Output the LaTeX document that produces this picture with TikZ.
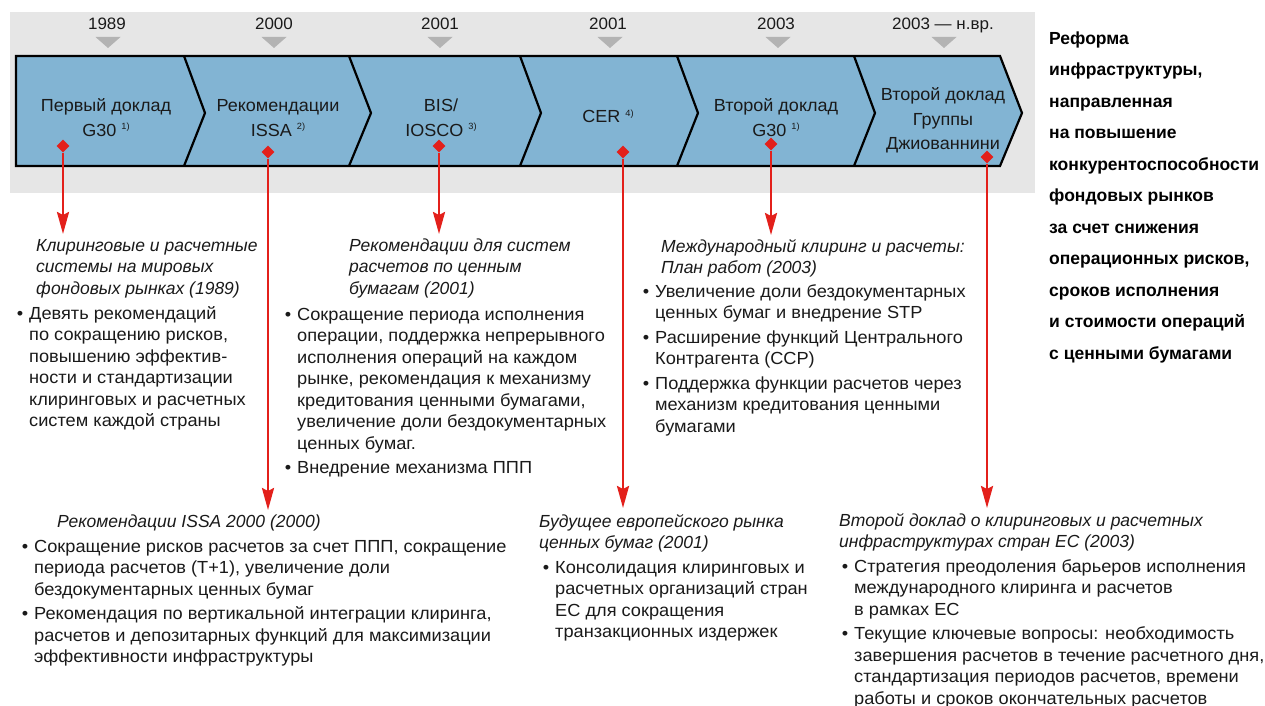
\documentclass[tikz,border=0pt]{standalone}
\usepackage{fontspec}
\setmainfont{Liberation Sans}
\newfontfamily\bodyf[FakeStretch=1.04]{Liberation Sans}
\newfontfamily\lblf[FakeStretch=1.03]{Liberation Sans}
\usetikzlibrary{arrows.meta,shapes.geometric}
\definecolor{bandblue}{HTML}{82B4D3}
\definecolor{bggray}{HTML}{E6E6E6}
\definecolor{trigray}{HTML}{B3B3B3}
\definecolor{mred}{HTML}{E3201B}
\definecolor{txt}{HTML}{1A1A1A}
\newcommand\fnote[1]{\raisebox{6.5pt}{\fontsize{9}{9}\selectfont #1}}
\newcommand\bu{\llap{\textbullet\hspace{6pt}}}
\newcommand\topstrut{\rule{0pt}{18pt}}
\begin{document}
\begin{tikzpicture}[x=1pt,y=-1pt,
  every node/.style={inner sep=0pt, text=txt},
  yr/.style={font=\lblf\fontsize{16.5}{18}\selectfont, anchor=base},
  lbl/.style={font=\lblf\fontsize{17.5}{20}\selectfont, anchor=base},
  hd/.style={font=\fontsize{17.5}{21.5}\selectfont\itshape, anchor=north west, align=left},
  bt/.style={font=\bodyf\fontsize{17.5}{21.5}\selectfont, anchor=north west, align=left},
  ttl/.style={font=\fontsize{17.5}{31.5}\selectfont\bfseries, anchor=north west, align=left, text=black},
  mk/.style={diamond, fill=mred, minimum width=13pt, minimum height=13pt, inner sep=0pt},
  ar/.style={draw=mred, line width=2.5pt, -{Stealth[length=22pt,width=12pt,inset=3pt]}},
  band/.style={fill=bandblue, draw=black, line width=2.2pt, line join=miter},
  sep/.style={draw=black, line width=2.2pt, line join=miter}]
\fill[white] (0,0) rectangle (1265,706);
\useasboundingbox (0,0) rectangle (1265,706);
\fill[bggray] (10,12) rectangle (1035,193);
% year triangles
\foreach \x in {108,274,440,610,778,944}
  \fill[trigray] (\x-12.5,37) -- (\x+12.5,37) -- (\x,48) -- cycle;
% years
\node[yr] (y1) at (107,30) {1989};
\node[yr] (y2) at (274,30) {2000};
\node[yr] (y3) at (440,30) {2001};
\node[yr] (y4) at (608,30) {2001};
\node[yr] (y5) at (776,30) {2003};
\node[yr] (y6) at (943,30) {2003 — н.вр.};
% band
\path[band] (16,56) -- (1000,56) -- (1022,113) -- (1000,166) -- (16,166) -- cycle;
\draw[sep] (184,56) -- (205,113) -- (184,166);
\draw[sep] (349,56) -- (371,113) -- (349,166);
\draw[sep] (520,56) -- (541,113) -- (520,166);
\draw[sep] (677,56) -- (698,113) -- (677,166);
\draw[sep] (854,56) -- (875,113) -- (854,166);
% band labels
\node[lbl] (l1a) at (106,112) {Первый доклад};
\node[lbl] (l1b) at (106,136) {G30 \fnote{1)}};
\node[lbl] (l2a) at (278,112) {Рекомендации};
\node[lbl] (l2b) at (278,136) {ISSA \fnote{2)}};
\node[lbl] (l3a) at (441,112) {BIS/};
\node[lbl] (l3b) at (441,136) {IOSCO \fnote{3)}};
\node[lbl] (l4)  at (608,123) {CER \fnote{4)}};
\node[lbl] (l5a) at (776,112) {Второй доклад};
\node[lbl] (l5b) at (776,136) {G30 \fnote{1)}};
\node[lbl] (l6a) at (943,101) {Второй доклад};
\node[lbl] (l6b) at (943,125) {Группы};
\node[lbl] (l6c) at (943,149) {Джиованнини};
% markers and arrows
\coordinate (t1) at (63,234);
\coordinate (t2) at (268,510);
\coordinate (t3) at (439,234);
\coordinate (t4) at (623,508);
\coordinate (t5) at (771,235);
\coordinate (t6) at (987,508);
\node[mk] (d1) at (63,146) {};
\node[mk] (d2) at (268,152) {};
\node[mk] (d3) at (439,146) {};
\node[mk] (d4) at (623,152) {};
\node[mk] (d5) at (771,144) {};
\node[mk] (d6) at (987,157) {};
\draw[ar] (d1) -- (t1);
\draw[ar] (d2) -- (t2);
\draw[ar] (d3) -- (t3);
\draw[ar] (d4) -- (t4);
\draw[ar] (d5) -- (t5);
\draw[ar] (d6) -- (t6);
% block 1
\node[hd] (h1) at (36,233) {\topstrut Клиринговые и расчетные\\системы на мировых\\фондовых рынках (1989)};
\node[bt] (b1) at (29,301) {\topstrut\bu Девять рекомендаций\\по сокращению рисков,\\повышению эффектив-\\ности и стандартизации\\клиринговых и расчетных\\систем каждой страны};
% block 2
\node[hd] (h2) at (57,509) {\topstrut Рекомендации ISSA 2000 (2000)};
\node[bt] (b2) at (34,534) {\topstrut\bu Сокращение рисков расчетов за счет ППП, сокращение\\периода расчетов (T+1), увеличение доли\\бездокументарных ценных бумаг\\[3pt]\bu Рекомендация по вертикальной интеграции клиринга,\\расчетов и депозитарных функций для максимизации\\эффективности инфраструктуры};
% block 3
\node[hd] (h3) at (349,233) {\topstrut Рекомендации для систем\\расчетов по ценным\\бумагам (2001)};
\node[bt] (b3) at (297,302) {\topstrut\bu Сокращение периода исполнения\\операции, поддержка непрерывного\\исполнения операций на каждом\\рынке, рекомендация к механизму\\кредитования ценными бумагами,\\увеличение доли бездокументарных\\ценных бумаг.\\[3pt]\bu Внедрение механизма ППП};
% block 4
\node[hd] (h4) at (539,509) {\topstrut Будущее европейского рынка\\ценных бумаг (2001)};
\node[bt] (b4) at (555,555) {\topstrut\bu Консолидация клиринговых и\\расчетных организаций стран\\ЕС для сокращения\\транзакционных издержек};
% block 5
\node[hd] (h5) at (661,234) {\topstrut Международный клиринг и расчеты:\\План работ (2003)};
\node[bt] (b5) at (655,279) {\topstrut\bu Увеличение доли бездокументарных\\ценных бумаг и внедрение STP\\[3pt]\bu Расширение функций Центрального\\Контрагента (CCP)\\[3pt]\bu Поддержка функции расчетов через\\механизм кредитования ценными\\бумагами};
% block 6
\node[hd] (h6) at (839,508) {\topstrut Второй доклад о клиринговых и расчетных\\инфраструктурах стран ЕС (2003)};
\node[bt] (b6) at (854,554) {\topstrut\bu Стратегия преодоления барьеров исполнения\\международного клиринга и расчетов\\в рамках ЕС\\[3pt]\bu Текущие ключевые вопросы: необходимость\\завершения расчетов в течение расчетного дня,\\стандартизация периодов расчетов, времени\\работы и сроков окончательных расчетов};
% title
\node[ttl] (title) at (1049,26) {\topstrut Реформа\\инфраструктуры,\\направленная\\на повышение\\конкурентоспособности\\фондовых рынков\\за счет снижения\\операционных рисков,\\сроков исполнения\\и стоимости операций\\с ценными бумагами};
\end{tikzpicture}
\end{document}
